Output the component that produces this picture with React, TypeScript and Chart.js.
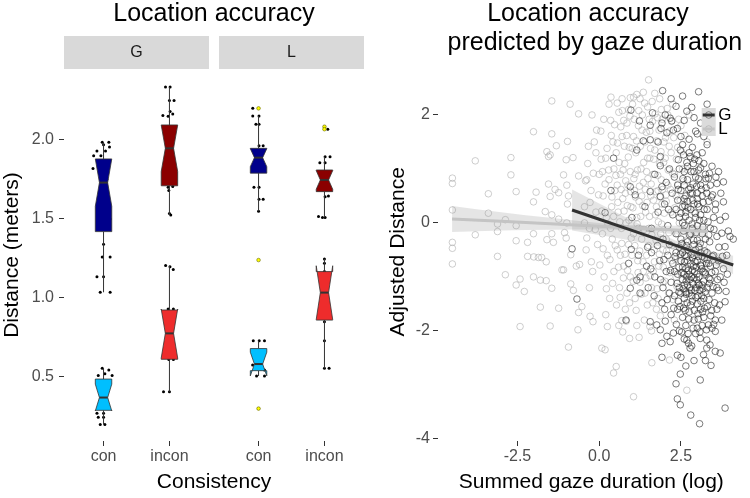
import React, { useEffect, useRef } from "react";
import { Chart, registerables } from "chart.js";
Chart.register(...registerables);

const FONT = "'Liberation Sans', Arial, Helvetica, sans-serif";
Chart.defaults.font.family = FONT;

// ---------------- Left panel data (boxplots) ----------------
const facets = ["G", "L"];
const categories = ["con", "incon"];
// box order: G con upper, G con lower, G incon upper, G incon lower, L con upper, L con lower, L incon upper, L incon lower
const boxFacet = [0, 0, 0, 0, 1, 1, 1, 1];
const boxCategory = [0, 0, 1, 1, 0, 0, 1, 1];
const whiskerLow = [1.036, 0.2, 1.525, 0.407, 1.549, 0.506, 1.51, 0.555];
const hingeLow = [1.42, 0.289, 1.71, 0.612, 1.79, 0.54, 1.673, 0.86];
const medians = [1.73, 0.37, 1.947, 0.776, 1.888, 0.582, 1.747, 1.034];
const hingeHigh = [1.88, 0.487, 2.095, 0.924, 1.947, 0.68, 1.81, 1.167];
const whiskerHigh = [1.985, 0.555, 2.335, 1.205, 2.152, 0.73, 1.894, 1.247];
const notchLow = [1.58, 0.285, 1.8, 0.62, 1.831, 0.507, 1.688, 0.864];
const notchHigh = [1.88, 0.455, 2.094, 0.93, 1.945, 0.657, 1.806, 1.204];

// jittered points: [x jitter (category units), distance]
const jitterGcon = [
  [-0.02, 1.985], [0.08, 1.985], [0.0, 1.97], [0.09, 1.955], [-0.1, 1.93], [0.03, 1.93], [-0.15, 1.9], [-0.04, 1.9],
  [-0.16, 1.82], [0.05, 1.75], [-0.05, 1.6], [0.1, 1.5], [0.0, 1.34], [-0.02, 1.26], [0.1, 1.26], [-0.1, 1.135],
  [0.0, 1.135], [-0.05, 1.036], [0.1, 1.036],
  [-0.02, 0.555], [0.08, 0.545], [0.02, 0.52], [0.13, 0.51], [-0.08, 0.51], [0.05, 0.42], [-0.06, 0.33],
  [-0.1, 0.27], [0.0, 0.27], [-0.08, 0.245], [0.0, 0.245], [-0.05, 0.2], [0.02, 0.2],
];
const jitterGincon = [
  [-0.06, 2.335], [0.01, 2.335], [0.0, 2.25], [0.07, 2.25], [0.01, 2.18], [0.05, 2.165], [-0.1, 2.155], [-0.02, 2.15],
  [0.04, 2.0], [-0.05, 1.85], [0.05, 1.705], [-0.02, 1.7], [-0.01, 1.68], [0.0, 1.535], [0.02, 1.525],
  [-0.058, 1.205], [0.008, 1.198], [0.058, 1.18], [-0.02, 0.93], [0.06, 0.93], [0.03, 0.8], [-0.04, 0.7],
  [-0.01, 0.61], [0.06, 0.61], [-0.09, 0.407], [0.0, 0.407],
];
const jitterLcon = [
  [-0.088, 2.2], [-0.088, 2.152], [0.007, 2.152], [-0.04, 2.1], [0.007, 2.1], [0.007, 1.964], [0.07, 1.964],
  [0.0, 1.9], [-0.07, 1.7], [0.007, 1.7], [0.007, 1.625], [0.07, 1.625], [0.0, 1.549],
  [-0.08, 0.73], [0.01, 0.73], [0.09, 0.73], [0.0, 0.62], [-0.09, 0.576], [0.09, 0.544], [-0.03, 0.506],
  [0.09, 0.506], [0.0, 0.3],
];
const jitterLincon = [
  [0.0, 2.084], [0.05, 2.068], [0.01, 1.894], [0.085, 1.894], [-0.07, 1.856], [0.01, 1.856], [0.0, 1.75],
  [0.01, 1.64], [0.06, 1.645], [-0.09, 1.515], [-0.03, 1.51], [0.01, 1.51],
  [0.0, 1.247], [0.0, 1.22], [0.0, 1.167], [0.03, 1.0], [0.0, 0.85], [0.0, 0.73], [0.0, 0.555], [0.07, 0.555],
];
// boxplot outliers: [facet, category, distance]
const outliers = [
  [1, 0, 2.2], [1, 0, 1.24], [1, 0, 0.3], [1, 1, 2.084], [1, 1, 2.068],
];
const leftYTicks = [0.5, 1.0, 1.5, 2.0];

// ---------------- Right panel data (scatter + fits) ----------------
const gazeG = [
  [1.94, 2.45], [3.04, 2.43], [0.97, 2.09], [1.63, 2.04], [2.35, 2.16], [2.68, 2.07], [2.83, 2.14], [2.02, 2.0],
  [2.17, 1.94], [2.22, 1.89], [1.92, 1.85], [1.23, 1.89], [1.56, 1.81], [1.89, 1.75], [2.07, 1.67], [2.39, 1.75],
  [2.27, 1.72], [2.6, 1.9], [2.9, 1.95], [3.1, 1.85], [3.3, 2.2], [2.5, 1.6], [2.75, 1.55], [3.0, 1.65], [3.2, 1.6],
  [2.2, 2.3], [2.55, 2.35], [3.3, 1.45], [1.8, 1.5], [2.95, 1.7],
  [2.48, 1.35], [2.42, 1.17], [2.58, 1.26], [2.78, 1.23], [2.99, 1.26], [3.04, 0.98], [2.88, 1.1], [0.44, 1.2],
  [1.15, 1.35], [1.35, 1.52], [1.56, 1.54], [1.87, 1.23], [1.87, 1.06], [3.34, 0.83], [3.6, 0.73], [3.8, 0.76],
  [3.29, 0.55], [3.55, 0.24], [3.8, 0.39], [0.36, 0.6], [0.95, 0.67], [1.1, 0.52], [1.56, 0.58], [1.92, 0.67],
  [1.87, 0.49], [2.6, 0.95], [2.7, 0.8], [2.8, 0.65], [2.95, 0.85], [3.1, 0.7], [3.2, 1.1], [2.5, 0.6], [2.3, 0.85],
  [2.15, 1.0], [2.55, 1.45], [3.15, 1.3], [2.7, 1.05], [3.0, 0.55], [2.65, 0.5], [3.45, 1.05], [2.85, 1.4],
  [2.4, 0.7], [1.7, 0.9], [2.05, 0.75], [3.65, 0.95], [2.45, 1.0], [2.75, 1.3], [2.9, 0.95], [3.05, 1.15],
  [3.25, 0.9], [3.4, 0.7], [2.6, 0.7], [2.85, 0.55], [3.15, 0.5],
  [0.18, 0.19], [-0.83, -0.48], [1.0, 0.1], [1.4, 0.3], [1.6, -0.1], [1.8, 0.2], [2.0, 0.35], [2.1, -0.05],
  [2.25, 0.15], [2.4, 0.42], [2.45, 0.1], [2.55, 0.3], [2.6, -0.05], [2.65, 0.2], [2.7, 0.4], [2.75, 0.05],
  [2.8, 0.25], [2.85, -0.1], [2.9, 0.35], [2.95, 0.1], [3.0, -0.05], [3.05, 0.3], [3.1, 0.15], [3.15, -0.2],
  [3.2, 0.05], [3.3, 0.25], [3.4, -0.1], [3.5, 0.1], [3.6, -0.25], [3.75, -0.19], [4.0, -0.25], [3.85, -0.44],
  [3.7, 0.05], [2.5, -0.3], [2.7, -0.35], [2.9, -0.4], [3.05, -0.45], [3.25, -0.3], [2.35, -0.2], [2.15, -0.4],
  [1.95, -0.3], [2.6, 0.45], [2.8, -0.2], [3.35, 0.4], [2.45, -0.45], [2.55, 0.0], [3.0, 0.45], [4.1, -0.3],
  [0.98, -0.49], [0.9, -0.75], [1.2, -0.6], [1.45, -0.8], [1.6, -0.55], [1.7, -1.0], [1.85, -0.7], [1.95, -1.2],
  [2.05, -0.9], [2.1, -0.6], [2.2, -1.1], [2.25, -0.75], [2.3, -1.35], [2.35, -0.55], [2.4, -0.95], [2.45, -1.2],
  [2.5, -0.7], [2.55, -1.05], [2.6, -1.4], [2.62, -0.6], [2.65, -0.85], [2.7, -1.15], [2.72, -0.5], [2.75, -1.3],
  [2.8, -0.75], [2.82, -1.0], [2.85, -1.45], [2.9, -0.6], [2.92, -0.9], [2.95, -1.2], [3.0, -0.7], [3.02, -1.35],
  [3.05, -1.0], [3.1, -0.55], [3.12, -0.8], [3.15, -1.15], [3.2, -1.4], [3.22, -0.65], [3.25, -0.95], [3.3, -1.2],
  [3.35, -0.75], [3.4, -1.05], [3.45, -1.3], [3.5, -0.6], [3.55, -0.9], [3.6, -1.2], [3.65, -0.7], [3.7, -1.0],
  [3.8, -0.85], [3.9, -0.6], [3.88, -1.27], [3.65, -1.25], [2.55, -0.55], [2.68, -1.0], [2.78, -1.2], [2.88, -0.8],
  [2.98, -1.05], [3.08, -1.25], [3.18, -0.9], [2.42, -1.45], [2.3, -0.9], [2.15, -1.3], [1.5, -1.2], [1.25, -1.0],
  [2.6, -0.95], [2.85, -0.65], [3.0, -1.5], [3.3, -0.55], [2.5, -1.3], [2.7, -0.7], [2.95, -0.5], [3.4, -0.8],
  [-0.68, -1.41], [0.82, -1.8], [0.95, -1.21], [1.25, -1.3], [1.15, -1.06], [1.56, -1.83], [1.76, -1.89],
  [1.87, -1.98], [2.07, -2.1], [1.92, -2.23], [2.17, -2.2], [2.27, -2.04], [1.92, -2.49], [2.39, -2.45],
  [2.5, -2.49], [2.48, -2.8], [2.35, -2.98], [3.09, -2.91], [2.39, -3.26], [2.48, -3.37], [2.8, -3.56],
  [3.07, -3.72], [3.85, -3.43], [3.42, -2.64], [3.19, -2.44], [3.55, -2.38], [3.7, -2.41], [3.09, -2.14],
  [3.29, -2.17], [3.39, -2.26], [3.29, -2.32], [2.68, -2.17], [2.73, -2.23], [2.83, -2.28], [2.78, -2.32],
  [3.85, -1.46], [3.55, -1.8], [3.34, -1.89], [3.45, -1.95], [3.55, -2.01], [2.4, -1.6], [2.55, -1.75],
  [2.65, -1.9], [2.75, -1.65], [2.9, -1.8], [3.0, -1.95], [3.1, -1.6], [3.2, -1.75], [2.45, -2.0], [2.6, -2.15],
  [2.95, -2.05], [3.15, -1.9], [2.2, -1.7], [2.0, -1.6], [3.6, -1.6], [3.75, -1.8], [3.25, -2.55], [2.9, -2.55],
  [2.65, -2.65],
  [2.32, -0.62], [2.38, -1.12], [2.44, -0.82], [2.47, -1.55], [2.52, -0.92], [2.53, -0.38], [2.57, -1.22],
  [2.58, -0.15], [2.61, -0.72], [2.63, -1.62], [2.64, 0.12], [2.66, -1.08], [2.67, -0.42], [2.69, -1.48],
  [2.71, 0.28], [2.73, -0.88], [2.74, -1.78], [2.76, -0.22], [2.77, -1.05], [2.79, 0.55], [2.81, -0.58],
  [2.83, -1.35], [2.84, -0.02], [2.86, -1.12], [2.87, 0.72], [2.89, -0.32], [2.91, -1.62], [2.93, -0.72],
  [2.94, 0.18], [2.96, -1.38], [2.97, -0.18], [2.99, -0.95], [3.01, 0.35], [3.03, -1.78], [3.04, -0.62],
  [3.06, -1.15], [3.07, 0.05], [3.09, -0.38], [3.11, -1.45], [3.13, 0.62], [3.14, -0.85], [3.16, -1.65],
  [3.17, -0.08], [3.19, -1.08], [3.21, 0.25], [3.23, -0.52], [3.24, -1.28], [3.26, 0.82], [3.28, -0.75],
  [3.31, -1.55], [3.33, 0.02], [3.36, -1.02], [3.38, -0.35], [3.41, -1.72], [3.43, 0.48], [3.46, -0.62],
  [3.48, -1.18], [3.51, -0.12], [3.53, -1.48], [3.56, 0.35], [3.58, -0.78], [3.62, -1.05], [3.66, -0.45],
  [3.68, -1.52], [3.72, 0.55], [3.77, -0.62], [3.82, -1.1], [3.86, 0.12], [3.92, -0.95], [3.95, -0.15],
  [2.35, 0.25], [2.42, 0.62], [2.5, 0.18], [2.56, 0.82], [2.62, 0.32], [2.68, 1.12], [2.74, 0.62], [2.81, 0.95],
  [2.86, 0.42], [2.92, 1.18], [2.98, 0.68], [3.04, 0.82], [3.1, 1.02], [3.18, 0.38], [3.27, 0.65], [3.37, 0.92],
  [3.47, 0.52], [3.57, 0.85], [2.23, 0.55], [2.12, 0.25],
  [2.28, -1.58], [2.36, -1.88], [2.44, -1.28], [2.52, -2.02], [2.58, -1.58], [2.66, -1.32], [2.72, -2.05],
  [2.8, -1.52], [2.87, -1.95], [2.93, -1.25], [3.02, -1.68], [3.08, -2.02], [3.14, -1.35], [3.22, -1.58],
  [3.28, -1.98], [3.36, -1.42], [3.44, -1.62], [3.5, -1.88], [2.18, -0.88], [2.08, -1.42], [1.98, -0.68],
  [1.88, -1.05], [1.78, -0.42], [1.68, -1.35], [1.58, -0.85], [1.48, -0.45], [2.02, -1.82], [1.92, -1.48],
  [2.55, -0.82], [2.6, -1.15], [2.68, -0.62], [2.75, -0.95], [2.82, -1.25], [2.9, -1.02], [2.97, -0.82],
  [3.03, -1.12], [3.1, -0.78], [3.17, -1.22], [3.23, -0.92], [3.3, -0.68], [3.37, -1.12], [3.44, -0.92],
  [2.48, -0.58], [2.65, -1.28], [2.85, -0.88], [3.0, -0.32], [3.15, -0.62], [3.35, -0.22],
];
const gazeL = [
  [-1.45, 2.26], [-0.89, 2.2], [-0.63, 2.02], [-0.22, 2.0], [-2.01, 1.69], [-1.45, 1.65], [-1.31, 1.43],
  [-0.97, 1.51], [-1.6, 1.32], [-1.5, 1.26], [-1.55, 1.23], [-3.79, 1.15], [-2.7, 1.21], [-2.7, 0.89],
  [-4.49, 0.83], [-4.49, 0.73], [-3.39, 0.54], [-2.54, 0.58], [-1.93, 0.57], [-2.01, 0.39], [-1.55, 0.72],
  [-1.35, 0.62], [-1.24, 0.56], [-1.5, 0.49], [-1.09, 0.89], [-0.99, 0.7], [-0.94, 0.5], [-0.97, 0.35],
  [-1.01, 1.17], [-0.8, 1.21], [-0.63, 0.87], [-0.38, 0.8], [-4.49, 0.24], [-3.39, 0.18], [-2.87, 0.06],
  [-3.11, -0.02], [-3.11, -0.16], [-2.54, -0.05], [-3.79, -0.22], [-4.49, -0.36], [-4.49, -0.47], [-2.54, -0.33],
  [-2.19, -0.36], [-2.01, -0.2], [-1.6, -0.31], [-1.45, -0.2], [-1.4, -0.36], [-1.65, 0.21], [-1.45, 0.15],
  [-1.24, 0.07], [-0.99, 0.0], [-1.06, -0.18], [-1.01, -0.28], [-4.49, -0.76], [-3.11, -0.62], [-2.19, -0.62],
  [-2.0, -0.63], [-1.86, -0.64], [-1.76, -0.64], [-1.62, -0.72], [-2.87, -0.96], [-2.54, -1.15], [-2.42, -1.04],
  [-2.29, -1.27], [-2.01, -1.0], [-1.8, -1.06], [-1.62, -1.07], [-1.45, -1.21], [-1.8, -1.56], [-1.24, -1.58],
  [-2.42, -1.92], [-1.5, -1.91], [-0.94, -2.3], [-0.65, -1.98], [-1.14, -0.87], [-1.09, -0.87], [-0.87, -0.59],
  [-0.87, -1.13], [-0.79, -1.25], [-0.7, -0.8], [-0.6, -0.77], [-0.53, -1.55], [-0.63, -1.66], [-0.28, -1.73],
  [-0.19, -1.83], [0.08, -2.32], [0.18, -2.35], [0.44, -2.78], [0.52, -2.66], [1.05, -3.22], [0.93, -2.14],
  [0.69, -1.81], [1.61, -2.59], [2.68, -3.1], [2.15, -2.54], [1.51, 2.65],
  [-0.45, 0.3], [-0.4, -0.5], [-0.35, 1.1], [-0.3, -0.1], [-0.25, 0.6], [-0.2, -0.9], [-0.15, 1.5], [-0.1, 0.2],
  [-0.05, -0.4], [0.0, 0.9], [-0.3, -1.2], [-0.1, 1.3], [-0.45, 0.0],
  [0.05, 1.7], [0.1, -0.2], [0.12, 0.5], [0.15, -1.0], [0.2, 1.2], [0.22, 0.1], [0.25, -0.6], [0.3, 0.8],
  [0.32, -1.4], [0.35, 1.9], [0.38, 0.3], [0.4, -0.3], [0.42, 1.5], [0.45, -0.9], [0.48, 0.6], [0.3, 2.2],
  [0.2, -1.7], [0.45, 1.0], [0.1, 0.95], [0.35, -0.1], [0.36, 2.33],
  [0.52, 1.3], [0.55, -0.5], [0.58, 0.2], [0.6, 2.05], [0.62, -1.2], [0.65, 0.9], [0.68, -0.1], [0.7, 1.6],
  [0.72, 0.45], [0.75, -0.8], [0.78, 1.1], [0.8, -1.6], [0.82, 0.0], [0.85, 1.85], [0.88, 0.7], [0.9, -0.4],
  [0.92, 1.4], [0.95, -1.0], [0.97, 0.3], [0.6, -1.9], [0.7, 2.3], [0.8, 0.55], [0.9, 2.1], [0.55, 0.7],
  [0.65, -0.6], [0.75, 1.9], [0.85, -1.3], [0.95, 0.95],
  [1.02, 2.2], [1.05, -0.2], [1.08, 0.6], [1.1, -1.4], [1.12, 1.3], [1.15, 0.1], [1.18, -0.7], [1.2, 1.8],
  [1.22, 0.4], [1.25, -1.1], [1.28, 1.0], [1.3, -0.3], [1.32, 2.0], [1.35, 0.75], [1.38, -1.8], [1.4, 1.5],
  [1.42, 0.2], [1.45, -0.6], [1.48, 1.2], [1.05, 1.6], [1.15, -1.9], [1.25, 2.3], [1.35, -0.9], [1.45, 0.95],
  [1.1, 0.9], [1.3, 0.5], [1.2, -0.1], [1.4, -1.3], [1.0, -0.6], [1.48, 2.15], [1.05, 2.33],
  [1.52, -0.1], [1.55, 1.7], [1.58, 0.5], [1.6, -1.2], [1.62, 2.25], [1.65, 0.9], [1.68, -0.5], [1.7, 1.35],
  [1.72, 0.15], [1.75, -1.6], [1.78, 1.95], [1.8, 0.6], [1.82, -0.8], [1.85, 1.1], [1.88, -0.2], [1.9, 2.1],
  [1.92, 0.35], [1.95, -1.1], [1.98, 1.5], [1.6, -2.0], [1.7, 2.4], [1.8, -1.4], [1.9, 0.8], [1.55, 1.2],
  [1.65, -0.9], [1.75, 0.3], [1.85, 2.3], [1.95, -0.5],
  [2.02, 1.2], [2.05, -0.3], [2.1, 0.7], [2.12, -1.3], [2.15, 1.7], [2.2, 0.2], [2.22, -0.7], [2.25, 2.2],
  [2.3, 0.9], [2.35, -1.0], [2.4, 1.4], [2.45, 0.0], [2.5, -0.5], [2.55, 1.0], [2.6, -1.5], [2.1, 2.0],
  [2.3, -1.8], [2.5, 1.8], [2.2, 1.3], [2.4, -0.2], [2.05, 0.4], [2.35, 0.5], [2.6, 0.4],
  [2.7, -0.8], [2.8, 1.2], [2.9, 0.2], [3.0, -1.2], [3.1, 0.8], [3.2, -0.4], [2.75, 2.0], [3.3, 1.5],
  [-0.42, 0.78], [-0.38, -0.28], [-0.33, 1.42], [-0.28, 0.38], [-0.24, -0.72], [-0.18, 0.92], [-0.12, -0.12],
  [-0.08, 1.72], [-0.02, 0.52], [0.02, -0.78], [0.06, 1.18], [0.08, 0.22], [0.12, -0.48], [0.14, 1.92],
  [0.18, 0.72], [0.22, -1.22], [0.24, 1.38], [0.27, -0.02], [0.29, 0.98], [0.33, -0.68], [0.37, 1.62],
  [0.39, 0.48], [0.41, -1.12], [0.44, 0.12], [0.47, 1.82], [0.49, -0.42], [0.51, 0.88], [0.53, -1.52],
  [0.56, 1.48], [0.57, 0.38], [0.59, -0.82], [0.61, 1.12], [0.63, 0.02], [0.64, -1.38], [0.66, 1.78],
  [0.67, 0.62], [0.69, -0.38], [0.71, 2.08], [0.73, 0.98], [0.74, -1.02], [0.76, 0.22], [0.77, 1.42],
  [0.79, -0.58], [0.81, 0.78], [0.83, -1.82], [0.84, 1.62], [0.86, 0.32], [0.87, -0.88], [0.89, 1.22],
  [0.91, 0.05], [0.93, -1.48], [0.94, 1.98], [0.96, 0.58], [0.98, -0.28], [1.01, 1.38], [1.03, 0.28],
  [1.04, -1.08], [1.06, 0.82], [1.07, 1.92], [1.09, -0.42], [1.11, 0.48], [1.13, -1.62], [1.14, 1.52],
  [1.16, -0.02], [1.17, 0.98], [1.19, -0.92], [1.21, 2.08], [1.23, 0.68], [1.24, -0.52], [1.26, 1.42],
  [1.27, 0.12], [1.29, -1.32], [1.31, 1.72], [1.33, 0.32], [1.34, -0.72], [1.36, 1.12], [1.37, -0.12],
  [1.39, 2.22], [1.41, 0.62], [1.43, -1.02], [1.44, 1.68], [1.46, 0.38], [1.47, -1.52], [1.49, 0.82],
  [1.51, -0.42], [1.53, 1.92], [1.54, 0.12], [1.56, -0.98], [1.57, 1.38], [1.59, 0.72], [1.61, -0.22],
  [1.63, 1.88], [1.64, -1.48], [1.66, 0.42], [1.67, 1.18], [1.69, -0.72], [1.71, 2.02], [1.73, 0.58],
  [1.74, -0.32], [1.76, 1.52], [1.77, -1.22], [1.79, 0.88], [1.81, 0.02], [1.83, 1.72], [1.84, -0.58],
  [1.86, 0.48], [1.87, -1.72], [1.89, 1.32], [1.91, -0.02], [1.93, 1.92], [1.94, 0.62], [1.96, -0.82],
  [1.97, 1.12], [1.99, 0.18], [2.01, -1.08], [2.03, 1.58], [2.04, 0.52], [2.06, -0.52], [2.08, 2.12],
  [2.11, 0.98], [2.13, -0.18], [2.14, 1.42], [2.16, -0.92], [2.18, 0.62], [2.21, 1.88], [2.23, -0.42],
  [2.24, 0.92], [2.26, -1.42], [2.28, 1.58], [2.31, 0.28], [2.33, -0.68], [2.36, 1.18], [2.38, -1.18],
  [2.41, 0.72], [2.43, 1.92], [2.46, -0.72], [2.48, 0.42], [2.52, 1.32], [2.56, -0.92], [2.58, 0.78],
  [2.62, 1.62], [2.66, -0.32], [2.7, 0.98], [0.55, 2.22], [0.95, 2.32], [1.35, 2.42], [1.15, 2.38],
  [0.25, -1.92], [0.72, -2.02], [1.22, -2.12], [1.55, -1.92],
];
// fitted lines with confidence half-widths
const fitGx = [-0.83, 0, 1, 2, 2.7, 3.5, 4.1];
const fitGy = [0.24, 0.068, -0.139, -0.346, -0.491, -0.657, -0.78];
const fitGse = [0.38, 0.29, 0.19, 0.11, 0.08, 0.12, 0.17];
const fitLx = [-4.5, -3, -1.5, 0, 0.9, 2, 3.33];
const fitLy = [0.074, 0.029, -0.016, -0.061, -0.088, -0.121, -0.161];
const fitLse = [0.24, 0.17, 0.11, 0.06, 0.05, 0.07, 0.11];
const rightXTicks = [-2.5, 0, 2.5];
const rightYTicks = [-4, -2, 0, 2];
const legendLabels = ["G", "L"];

// ---------------- styles / layout ----------------
const BOX_COLORS = ["#00008B", "#00BFFF", "#8B0000", "#EE2C2C", "#00008B", "#00BFFF", "#8B0000", "#EE2C2C"];
const FACET_SPAN = 2.2;
const FACET_GAP = 0.152;
const BOX_W = 0.25;
const NOTCH_W = 0.5;
const TICK_COLOR = "#4D4D4D";
const G_COLOR = "rgba(35,35,35,0.75)";
const L_COLOR = "rgba(170,170,170,0.72)";
const G_LINE = "#333333";
const L_LINE = "#C4C4C4";
const BAND = "rgba(153,153,153,0.25)";

const facetStart = (f: number) => 0.4 + f * (FACET_SPAN + FACET_GAP);
const catPos = (f: number, c: number) => facetStart(f) + 0.6 + c;

const boxPlugin = {
  id: "boxes",
  afterDatasetDraw(chart: any, args: any) {
    if (args.index !== 1) return;
    const { ctx } = chart;
    const x = chart.scales.x, y = chart.scales.y;
    ctx.save();
    for (let i = 0; i < medians.length; i++) {
      const cx = catPos(boxFacet[i], boxCategory[i]);
      const x0 = x.getPixelForValue(cx - BOX_W / 2);
      const x1 = x.getPixelForValue(cx + BOX_W / 2);
      const xc = x.getPixelForValue(cx);
      const ind = ((x1 - x0) * (1 - NOTCH_W)) / 2;
      const yq3 = y.getPixelForValue(hingeHigh[i]);
      const yq1 = y.getPixelForValue(hingeLow[i]);
      const ym = y.getPixelForValue(medians[i]);
      const ynu = y.getPixelForValue(notchHigh[i]);
      const ynl = y.getPixelForValue(notchLow[i]);
      ctx.strokeStyle = "#333333";
      ctx.lineWidth = 1;
      ctx.beginPath();
      ctx.moveTo(xc, yq3);
      ctx.lineTo(xc, y.getPixelForValue(whiskerHigh[i]));
      ctx.moveTo(xc, yq1);
      ctx.lineTo(xc, y.getPixelForValue(whiskerLow[i]));
      ctx.stroke();
      ctx.beginPath();
      ctx.moveTo(x0, yq3);
      ctx.lineTo(x0, ynu);
      ctx.lineTo(x0 + ind, ym);
      ctx.lineTo(x0, ynl);
      ctx.lineTo(x0, yq1);
      ctx.lineTo(x1, yq1);
      ctx.lineTo(x1, ynl);
      ctx.lineTo(x1 - ind, ym);
      ctx.lineTo(x1, ynu);
      ctx.lineTo(x1, yq3);
      ctx.closePath();
      ctx.fillStyle = BOX_COLORS[i];
      ctx.fill();
      ctx.lineWidth = 0.8;
      ctx.stroke();
      ctx.lineWidth = 2;
      ctx.beginPath();
      ctx.moveTo(x0 + ind, ym);
      ctx.lineTo(x1 - ind, ym);
      ctx.stroke();
    }
    ctx.restore();
  },
};

const stripPlugin = {
  id: "strips",
  afterDraw(chart: any) {
    const { ctx, chartArea } = chart;
    const x = chart.scales.x;
    ctx.save();
    facets.forEach((f, i) => {
      const a = x.getPixelForValue(facetStart(i));
      const b = x.getPixelForValue(facetStart(i) + FACET_SPAN);
      ctx.fillStyle = "#D9D9D9";
      ctx.fillRect(a, chartArea.top - 33, b - a, 33);
      ctx.fillStyle = "#1A1A1A";
      ctx.font = `16px ${FONT}`;
      ctx.textAlign = "center";
      ctx.textBaseline = "middle";
      ctx.fillText(f, (a + b) / 2, chartArea.top - 16);
    });
    ctx.restore();
  },
};

const legendPlugin = {
  id: "ggLegend",
  afterDraw(chart: any) {
    const { ctx, chartArea } = chart;
    const kx = chartArea.right - 43;
    const ky = chartArea.top + 45.4;
    const lines = [G_LINE, L_LINE];
    const pts = [G_COLOR, L_COLOR];
    ctx.save();
    legendLabels.forEach((lab, i) => {
      const y0 = ky + i * 14;
      ctx.fillStyle = "#F2F2F2";
      ctx.fillRect(kx, y0, 14, 14);
      ctx.strokeStyle = pts[i];
      ctx.lineWidth = 0.8;
      ctx.beginPath();
      ctx.arc(kx + 7, y0 + 7, 3.3, 0, Math.PI * 2);
      ctx.stroke();
      ctx.fillStyle = BAND;
      ctx.fillRect(kx, y0, 14, 14);
      ctx.strokeStyle = lines[i];
      ctx.lineWidth = 3;
      ctx.beginPath();
      ctx.moveTo(kx + 1, y0 + 7);
      ctx.lineTo(kx + 13, y0 + 7);
      ctx.stroke();
      ctx.fillStyle = "#000";
      ctx.font = `17px ${FONT}`;
      ctx.textAlign = "left";
      ctx.textBaseline = "middle";
      ctx.fillText(lab, kx + 16.5, y0 + 7.5);
    });
    ctx.restore();
  },
};

function leftConfig(): any {
  const jitter: any[] = [];
  [
    [jitterGcon, 0, 0],
    [jitterGincon, 0, 1],
    [jitterLcon, 1, 0],
    [jitterLincon, 1, 1],
  ].forEach(([arr, f, c]: any) => arr.forEach(([dx, v]: number[]) => jitter.push({ x: catPos(f, c) + dx, y: v })));
  const outl = outliers.map(([f, c, v]) => ({ x: catPos(f, c), y: v }));
  const xTicks = [catPos(0, 0), catPos(0, 1), catPos(1, 0), catPos(1, 1)];
  const xLabels = [categories[0], categories[1], categories[0], categories[1]];
  return {
    type: "scatter",
    data: {
      datasets: [
        { data: outl, pointRadius: 1.8, pointBackgroundColor: "#FFFF00", pointBorderWidth: 0.6, pointBorderColor: "#6B6B00" },
        { data: jitter, pointRadius: 1.5, pointBackgroundColor: "#000", pointBorderWidth: 0, pointBorderColor: "#000" },
      ],
    },
    options: {
      animation: false,
      responsive: false,
      devicePixelRatio: 1,
      layout: { padding: { left: 0, right: 11, top: 0, bottom: 0 } },
      plugins: {
        legend: { display: false },
        tooltip: { enabled: false },
        title: {
          display: true,
          text: "Location accuracy",
          fullSize: false,
          color: "#000",
          font: { size: 25, weight: "normal", lineHeight: 1.16 },
          padding: { top: 0, bottom: 40 },
        },
      },
      scales: {
        x: {
          type: "linear",
          min: facetStart(0),
          max: facetStart(1) + FACET_SPAN,
          afterBuildTicks: (s: any) => { s.ticks = xTicks.map((v) => ({ value: v })); },
          afterFit: (s: any) => { s.height = 57; },
          ticks: { autoSkip: false, maxRotation: 0, padding: 1, color: TICK_COLOR, font: { size: 16 }, callback: (_v: any, i: number) => xLabels[i] },
          grid: { display: true, drawOnChartArea: false, drawTicks: true, tickLength: 5, color: "#333333", lineWidth: 1 },
          border: { display: false },
          title: { display: true, text: "Consistency", color: "#000", font: { size: 21 }, padding: { top: 0, bottom: 3 } },
        },
        y: {
          type: "linear",
          min: 0.095,
          max: 2.449,
          afterBuildTicks: (s: any) => { s.ticks = leftYTicks.map((v) => ({ value: v })); },
          afterFit: (s: any) => { s.width = 64; },
          ticks: { padding: 5, color: TICK_COLOR, font: { size: 16 }, callback: (v: any) => Number(v).toFixed(1) },
          grid: { display: true, drawOnChartArea: false, drawTicks: true, tickLength: 5, color: "#333333", lineWidth: 1 },
          border: { display: false },
          title: { display: true, text: "Distance (meters)", color: "#000", font: { size: 21 }, padding: { top: 0, bottom: 0 } },
        },
      },
    },
    plugins: [boxPlugin, stripPlugin],
  };
}

function rightConfig(): any {
  const toPts = (arr: number[][]) => arr.map(([x, y]) => ({ x, y }));
  const line = (xs: number[], ys: number[]) => xs.map((x, i) => ({ x, y: ys[i] }));
  const hi = (xs: number[], ys: number[], se: number[]) => xs.map((x, i) => ({ x, y: ys[i] + se[i] }));
  const lo = (xs: number[], ys: number[], se: number[]) => xs.map((x, i) => ({ x, y: ys[i] - se[i] }));
  const lineDs = (data: any, color: string, order: number) => ({
    data, showLine: true, borderColor: color, borderWidth: 3, pointRadius: 0, fill: false, order,
  });
  const bandDs = (data: any, fill: any, order: number) => ({
    data, showLine: true, borderWidth: 0, borderColor: "rgba(0,0,0,0)", pointRadius: 0, fill,
    backgroundColor: BAND, cubicInterpolationMode: "monotone", order,
  });
  return {
    type: "scatter",
    data: {
      datasets: [
        lineDs(line(fitGx, fitGy), G_LINE, 0),
        lineDs(line(fitLx, fitLy), L_LINE, 1),
        bandDs(hi(fitGx, fitGy, fitGse), 3, 2),
        bandDs(lo(fitGx, fitGy, fitGse), false, 2),
        bandDs(hi(fitLx, fitLy, fitLse), 5, 3),
        bandDs(lo(fitLx, fitLy, fitLse), false, 3),
        { data: toPts(gazeG), pointRadius: 3.3, pointBackgroundColor: "rgba(0,0,0,0)", pointBorderColor: G_COLOR, pointBorderWidth: 0.8, order: 4 },
        { data: toPts(gazeL), pointRadius: 3.3, pointBackgroundColor: "rgba(0,0,0,0)", pointBorderColor: L_COLOR, pointBorderWidth: 0.8, order: 5 },
      ],
    },
    options: {
      animation: false,
      responsive: false,
      devicePixelRatio: 1,
      layout: { padding: { left: 0, right: 5.3, top: 0, bottom: 0 } },
      plugins: {
        legend: { display: false },
        tooltip: { enabled: false },
        title: {
          display: true,
          text: ["Location accuracy ", " predicted by gaze duration"],
          fullSize: false,
          color: "#000",
          font: { size: 25, weight: "normal", lineHeight: 1.16 },
          padding: { top: 0, bottom: 4.6 },
        },
      },
      scales: {
        x: {
          type: "linear",
          min: -4.93,
          max: 4.45,
          afterBuildTicks: (s: any) => { s.ticks = rightXTicks.map((v) => ({ value: v })); },
          afterFit: (s: any) => { s.height = 57; },
          ticks: { autoSkip: false, maxRotation: 0, padding: 1, color: TICK_COLOR, font: { size: 16 }, callback: (v: any) => Number(v).toFixed(1) },
          grid: { display: true, drawOnChartArea: false, drawTicks: true, tickLength: 5, color: "#333333", lineWidth: 1 },
          border: { display: false },
          title: { display: true, text: "Summed gaze duration (log)", color: "#000", font: { size: 21 }, padding: { top: 0, bottom: 3 } },
        },
        y: {
          type: "linear",
          min: -4.04,
          max: 2.97,
          afterBuildTicks: (s: any) => { s.ticks = rightYTicks.map((v) => ({ value: v })); },
          afterFit: (s: any) => { s.width = 63; },
          ticks: { padding: 3, color: TICK_COLOR, font: { size: 16 }, callback: (v: any) => String(v) },
          grid: { display: true, drawOnChartArea: false, drawTicks: true, tickLength: 5, color: "#333333", lineWidth: 1 },
          border: { display: false },
          title: { display: true, text: "Adjusted Distance", color: "#000", font: { size: 21 }, padding: { top: 10.4, bottom: 0 } },
        },
      },
    },
    plugins: [legendPlugin],
  };
}

export default function App() {
  const leftRef = useRef<HTMLCanvasElement>(null);
  const rightRef = useRef<HTMLCanvasElement>(null);
  useEffect(() => {
    const c1 = new Chart(leftRef.current as HTMLCanvasElement, leftConfig());
    const c2 = new Chart(rightRef.current as HTMLCanvasElement, rightConfig());
    return () => {
      c1.destroy();
      c2.destroy();
    };
  }, []);
  return (
    <div style={{ position: "absolute", left: 0, top: 0, width: 750, height: 498, background: "#fff" }}>
      <canvas ref={leftRef} width={375} height={498} style={{ position: "absolute", left: 0, top: 0, width: 375, height: 498 }} />
      <canvas ref={rightRef} width={375} height={498} style={{ position: "absolute", left: 375, top: 0, width: 375, height: 498 }} />
    </div>
  );
}
